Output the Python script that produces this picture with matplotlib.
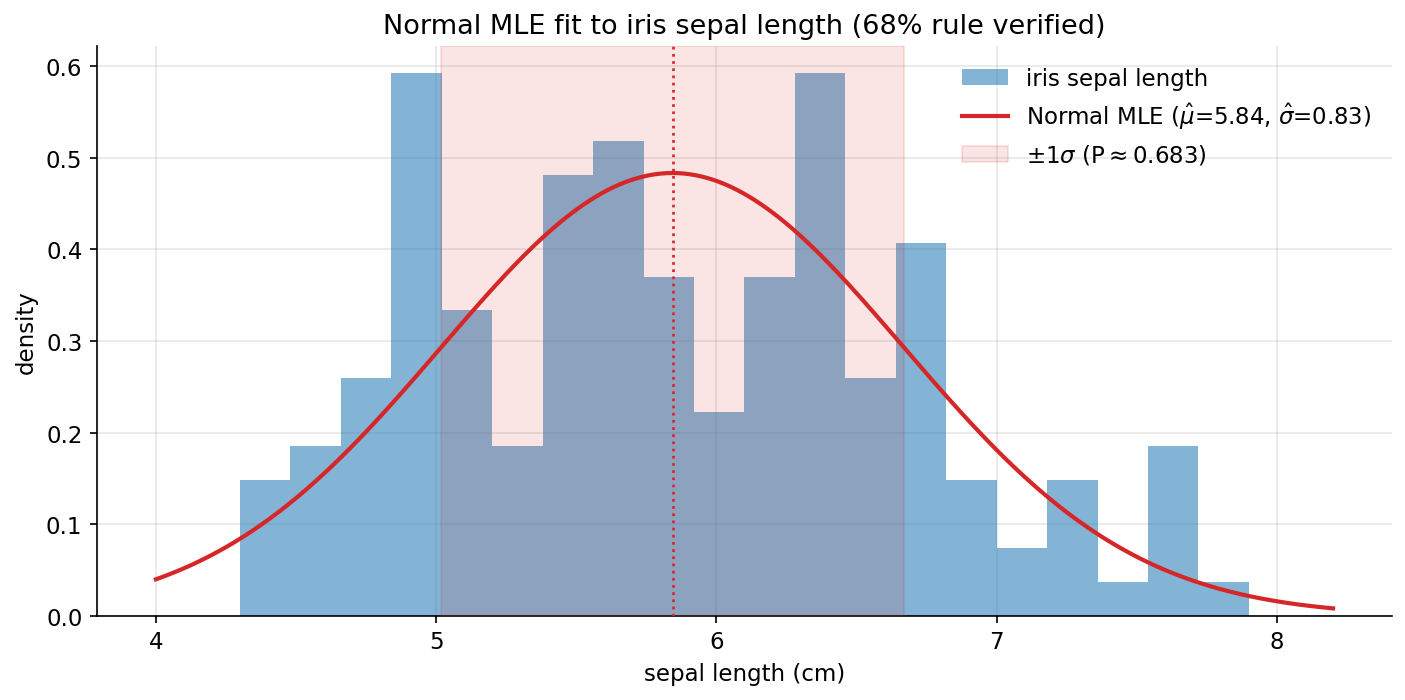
import numpy as np
import matplotlib
matplotlib.use("Agg")
import matplotlib.pyplot as plt

# histogram of iris sepal length (20 bins, 4.3 .. 7.9)
bin_edges = np.linspace(4.3, 7.9, 21)
bin_counts = [4, 5, 7, 16, 9, 5, 13, 14, 10, 6, 10, 16, 7, 11, 4, 2, 4, 1, 5, 1]
n_total = 150

# normal MLE fit
mu_hat = 5.8433
sigma_hat = 0.8253
x_range = (4.0, 8.2)

plt.rcParams["font.size"] = 11

widths = np.diff(bin_edges)
density = np.array(bin_counts) / (n_total * widths)

fig, ax = plt.subplots(figsize=(9.373, 4.673), dpi=150)
fig.subplots_adjust(left=0.069, right=0.990, top=0.933, bottom=0.120)

h_bar = ax.bar(bin_edges[:-1], density, width=widths, align="edge", color="tab:blue",
               alpha=0.55, linewidth=0, label="iris sepal length", zorder=2)

xs = np.linspace(x_range[0], x_range[1], 400)
pdf = np.exp(-0.5 * ((xs - mu_hat) / sigma_hat) ** 2) / (sigma_hat * np.sqrt(2 * np.pi))
h_line, = ax.plot(xs, pdf, color="#d62728", lw=2,
                  label=r"Normal MLE ($\hat{\mu}$=%.2f, $\hat{\sigma}$=%.2f)" % (mu_hat, sigma_hat),
                  zorder=4)

h_span = ax.axvspan(mu_hat - sigma_hat, mu_hat + sigma_hat, color="tab:red", alpha=0.12,
                    label=r"$\pm1\sigma$ (P$\approx$0.683)", zorder=3)
ax.axvline(mu_hat, color="#d62728", ls=":", lw=1.3, zorder=4)

ax.set_ylim(0, 0.622)
ax.set_xlabel("sepal length (cm)")
ax.set_ylabel("density")
ax.set_title("Normal MLE fit to iris sepal length (68% rule verified)", fontsize=13)
ax.grid(True, alpha=0.3, zorder=0)
ax.set_axisbelow(True)
ax.spines["top"].set_visible(False)
ax.spines["right"].set_visible(False)
ax.legend(handles=[h_bar, h_line, h_span], frameon=False, loc="upper right")

fig.savefig("out.png", dpi=150)
